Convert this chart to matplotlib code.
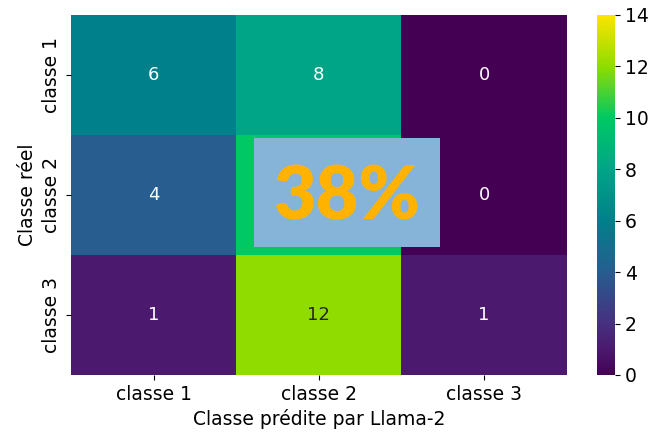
import matplotlib
matplotlib.use("Agg")
import matplotlib.pyplot as plt
from matplotlib.patches import Rectangle
from matplotlib.colors import LinearSegmentedColormap
import seaborn as sns
import numpy as np

# confusion matrix values
classes = ["classe 1", "classe 2", "classe 3"]
row_1 = [6, 8, 0]
row_2 = [4, 10, 0]
row_3 = [1, 12, 1]
accuracy_label = "38%"

# colour scale as it looks in the picture (a punchier viridis)
scale_stops = [0, 1, 2, 4, 6, 8, 10, 12, 14]
scale_colors = ["#440154", "#4b1a6e", "#46307f", "#275d8f", "#00808a",
                "#00a587", "#00c864", "#8fdc00", "#fde400"]

cm = np.array([row_1, row_2, row_3])
cmap = LinearSegmentedColormap.from_list(
    "vivid", list(zip(np.array(scale_stops) / 14, scale_colors)))

plt.rcParams["font.size"] = 13.5

fig = plt.figure(figsize=(6.5, 4.36), dpi=100)
ax = fig.add_axes([0.109, 0.140, 0.763, 0.826])
cax = fig.add_axes([0.918, 0.140, 0.028, 0.826])

sns.heatmap(cm, annot=True, cmap=cmap, vmin=0, vmax=14,
            annot_kws={"fontsize": 13},
            xticklabels=classes, yticklabels=classes, ax=ax, cbar_ax=cax)
ax.set_xlabel("Classe prédite par Llama-2")
ax.set_ylabel("Classe réel")
ax.tick_params(labelsize=13.5)
cax.tick_params(labelsize=13.5)

# overlay box with the score
fig.patches.append(Rectangle((0.391, 0.433), 0.286, 0.250, transform=fig.transFigure,
                             facecolor="#85b4d8", edgecolor="none", zorder=5))
fig.text(0.534, 0.545, accuracy_label, transform=fig.transFigure, ha="center", va="center",
         fontsize=53, fontweight="heavy", color="#ffb300", family="Lato", zorder=6)

plt.savefig("out.png", dpi=100)
